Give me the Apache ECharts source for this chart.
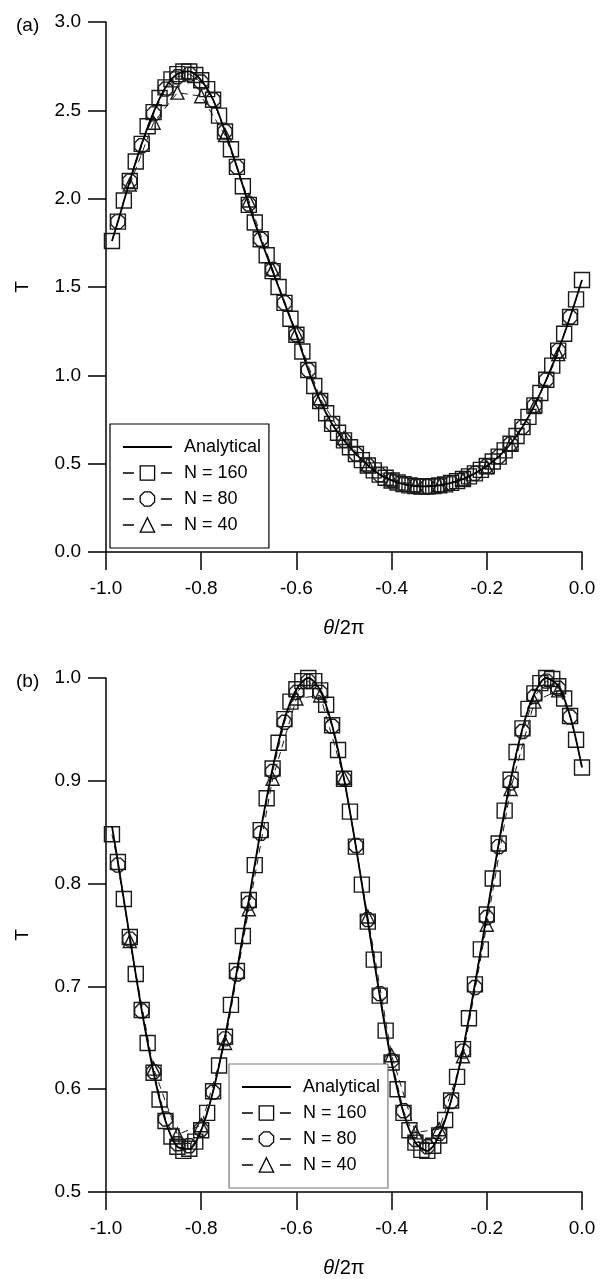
<!DOCTYPE html>
<html>
<head>
<meta charset="utf-8">
<script src="https://cdn.jsdelivr.net/npm/echarts@6/dist/echarts.min.js"></script>
<style>
  html, body { margin: 0; padding: 0; background: #fff; }
  #chart { width: 612px; height: 1279px; }
</style>
</head>
<body>
<div id="chart"></div>
<script>
// Sample positions along θ/2π
const xN160 = [-0.9875, -0.975, -0.9625, -0.95, -0.9375, -0.925, -0.9125, -0.9, -0.8875, -0.875,
  -0.8625, -0.85, -0.8375, -0.825, -0.8125, -0.8, -0.7875, -0.775, -0.7625, -0.75,
  -0.7375, -0.725, -0.7125, -0.7, -0.6875, -0.675, -0.6625, -0.65, -0.6375, -0.625,
  -0.6125, -0.6, -0.5875, -0.575, -0.5625, -0.55, -0.5375, -0.525, -0.5125, -0.5,
  -0.4875, -0.475, -0.4625, -0.45, -0.4375, -0.425, -0.4125, -0.4, -0.3875, -0.375,
  -0.3625, -0.35, -0.3375, -0.325, -0.3125, -0.3, -0.2875, -0.275, -0.2625, -0.25,
  -0.2375, -0.225, -0.2125, -0.2, -0.1875, -0.175, -0.1625, -0.15, -0.1375, -0.125,
  -0.1125, -0.1, -0.0875, -0.075, -0.0625, -0.05, -0.0375, -0.025, -0.0125, 0];
const xN80 = [-0.975, -0.95, -0.925, -0.9, -0.875, -0.85, -0.825, -0.8, -0.775, -0.75,
  -0.725, -0.7, -0.675, -0.65, -0.625, -0.6, -0.575, -0.55, -0.525, -0.5,
  -0.475, -0.45, -0.425, -0.4, -0.375, -0.35, -0.325, -0.3, -0.275, -0.25,
  -0.225, -0.2, -0.175, -0.15, -0.125, -0.1, -0.075, -0.05, -0.025];
const xN40 = [-0.95, -0.9, -0.85, -0.8, -0.75, -0.7, -0.65, -0.6, -0.55, -0.5,
  -0.45, -0.4, -0.35, -0.3, -0.25, -0.2, -0.15, -0.1, -0.05];
const xExact = [-0.9875, -0.975, -0.95, -0.925, -0.9, -0.875, -0.85, -0.825, -0.8, -0.775,
  -0.75, -0.725, -0.7, -0.675, -0.65, -0.625, -0.6, -0.575, -0.55, -0.525,
  -0.5, -0.475, -0.45, -0.425, -0.4, -0.375, -0.35, -0.325, -0.3, -0.275,
  -0.25, -0.225, -0.2, -0.175, -0.15, -0.125, -0.1, -0.075, -0.05, -0.025, 0];

// Panel (a): T
const tA160 = [1.76, 1.87, 1.99, 2.10, 2.21, 2.31, 2.41, 2.49, 2.57, 2.63,
  2.675, 2.705, 2.72, 2.72, 2.70, 2.67, 2.62, 2.56, 2.47, 2.38,
  2.28, 2.18, 2.07, 1.965, 1.865, 1.77, 1.68, 1.59, 1.50, 1.41,
  1.32, 1.23, 1.135, 1.03, 0.94, 0.855, 0.785, 0.725, 0.675, 0.632,
  0.593, 0.555, 0.52, 0.49, 0.462, 0.438, 0.42, 0.405, 0.393, 0.384,
  0.377, 0.373, 0.371, 0.371, 0.373, 0.377, 0.383, 0.391, 0.401, 0.413,
  0.428, 0.445, 0.465, 0.487, 0.512, 0.54, 0.575, 0.613, 0.657, 0.707,
  0.765, 0.83, 0.90, 0.975, 1.055, 1.14, 1.235, 1.33, 1.43, 1.54];
const tA80 = [1.87, 2.10, 2.30, 2.48, 2.62, 2.69, 2.705, 2.66, 2.56, 2.38,
  2.18, 1.97, 1.77, 1.60, 1.41, 1.23, 1.03, 0.855, 0.725, 0.632,
  0.555, 0.49, 0.438, 0.405, 0.384, 0.373, 0.371, 0.377, 0.391, 0.413,
  0.445, 0.487, 0.54, 0.613, 0.707, 0.83, 0.975, 1.14, 1.33];
const tA40 = [2.08, 2.43, 2.60, 2.58, 2.36, 1.99, 1.60, 1.24, 0.87, 0.645,
  0.495, 0.41, 0.378, 0.378, 0.41, 0.48, 0.61, 0.82, 1.12];
const tAExact = [1.76, 1.87, 2.10, 2.31, 2.49, 2.63, 2.705, 2.72, 2.67, 2.56,
  2.38, 2.18, 1.965, 1.77, 1.59, 1.41, 1.23, 1.03, 0.855, 0.725,
  0.632, 0.555, 0.49, 0.438, 0.405, 0.384, 0.373, 0.371, 0.377, 0.391,
  0.413, 0.445, 0.487, 0.54, 0.613, 0.707, 0.83, 0.975, 1.14, 1.33, 1.54];

// Panel (b): T
const tB160 = [0.848, 0.821, 0.785, 0.748, 0.712, 0.677, 0.645, 0.616, 0.590, 0.569,
  0.554, 0.544, 0.540, 0.542, 0.549, 0.560, 0.577, 0.598, 0.623, 0.651,
  0.682, 0.715, 0.749, 0.784, 0.818, 0.852, 0.883, 0.912, 0.937, 0.960,
  0.977, 0.989, 0.997, 1.000, 0.997, 0.988, 0.974, 0.954, 0.930, 0.902,
  0.870, 0.836, 0.799, 0.763, 0.726, 0.691, 0.657, 0.626, 0.600, 0.577,
  0.560, 0.548, 0.541, 0.540, 0.545, 0.555, 0.570, 0.589, 0.612, 0.639,
  0.669, 0.702, 0.736, 0.770, 0.805, 0.839, 0.871, 0.901, 0.928, 0.951,
  0.970, 0.985, 0.995, 1.000, 0.999, 0.992, 0.980, 0.963, 0.940, 0.913];
const tB80 = [0.818, 0.746, 0.676, 0.617, 0.571, 0.547, 0.545, 0.561, 0.597, 0.649,
  0.712, 0.781, 0.849, 0.909, 0.957, 0.986, 0.997, 0.986, 0.953, 0.902,
  0.837, 0.765, 0.693, 0.628, 0.579, 0.551, 0.544, 0.557, 0.588, 0.637,
  0.699, 0.767, 0.836, 0.898, 0.948, 0.982, 0.997, 0.990, 0.962];
const tB40 = [0.744, 0.620, 0.556, 0.565, 0.645, 0.775, 0.902, 0.980, 0.983, 0.903,
  0.768, 0.633, 0.558, 0.561, 0.632, 0.760, 0.892, 0.977, 0.988];
const tBExact = [0.856, 0.821, 0.748, 0.677, 0.616, 0.569, 0.544, 0.542, 0.560, 0.598,
  0.651, 0.715, 0.784, 0.852, 0.912, 0.960, 0.989, 1.000, 0.988, 0.954,
  0.902, 0.836, 0.763, 0.691, 0.626, 0.577, 0.548, 0.540, 0.555, 0.589,
  0.639, 0.702, 0.770, 0.839, 0.901, 0.951, 0.985, 1.000, 0.992, 0.963, 0.913];

const seriesNames = ['Analytical', 'N = 160', 'N = 80', 'N = 40'];

const FONT = '"Liberation Sans", Arial, Helvetica, sans-serif';
const INK = '#1a1a1a';
const OCTAGON = 'path://M3,0L7,0L10,3L10,7L7,10L3,10L0,7L0,3Z';

const pts = (xs, ys) => xs.map((x, i) => [x, ys[i]]);

function xAxisFor(gridIndex) {
  return {
    gridIndex, type: 'value', min: -1, max: 0, interval: 0.2,
    name: '{i|θ}/2π', nameLocation: 'middle', nameGap: 66,
    nameTextStyle: { fontFamily: FONT, fontSize: 20, color: '#000',
      rich: { i: { fontFamily: FONT, fontSize: 20, fontStyle: 'italic', color: '#000' } } },
    axisLine: { show: true, onZero: false, lineStyle: { color: '#000', width: 1.5 } },
    axisTick: { show: true, inside: false, length: 18, lineStyle: { color: '#000', width: 1.5 } },
    axisLabel: { fontFamily: FONT, fontSize: 19, color: '#000', margin: 27,
      formatter: v => v.toFixed(1) },
    splitLine: { show: false }
  };
}
function yAxisFor(gridIndex, min, max, interval) {
  return {
    gridIndex, type: 'value', min, max, interval,
    name: 'T', nameLocation: 'middle', nameGap: 74,
    nameTextStyle: { fontFamily: FONT, fontSize: 19, color: '#000' },
    axisLine: { show: true, onZero: false, lineStyle: { color: '#000', width: 1.5 } },
    axisTick: { show: true, inside: false, length: 18, lineStyle: { color: '#000', width: 1.5 } },
    axisLabel: { fontFamily: FONT, fontSize: 19, color: '#000', margin: 25,
      formatter: v => v.toFixed(1) },
    splitLine: { show: false }
  };
}

function panelSeries(idx, s160, s80, s40, exact) {
  const marker = (name, xs, ys, symbol, size) => ({
    name, type: 'line', xAxisIndex: idx, yAxisIndex: idx,
    data: pts(xs, ys), symbol, symbolSize: size, showSymbol: true,
    itemStyle: { color: 'rgba(255,255,255,0)', borderColor: INK, borderWidth: 1.4 },
    lineStyle: { color: INK, width: 1, type: [7, 5] },
    emphasis: { disabled: true }, z: 2
  });
  return [
    {
      name: 'Analytical', type: 'line', xAxisIndex: idx, yAxisIndex: idx,
      data: pts(xExact, exact), symbol: 'none', smooth: 0.3,
      lineStyle: { color: '#000', width: 1.8, type: 'solid' },
      itemStyle: { color: '#000' },
      emphasis: { disabled: true }, z: 5
    },
    marker('N = 160', xN160, s160, 'rect', 15),
    marker('N = 80', xN80, s80, OCTAGON, 14),
    marker('N = 40', xN40, s40, 'triangle', 13)
  ];
}

function legendAt(left, top, border) {
  return {
    orient: 'vertical', left, top,
    data: seriesNames.map(n => n === 'Analytical'
      ? { name: n, itemStyle: { opacity: 0 }, lineStyle: { type: 'solid', width: 1.8, color: '#000' } }
      : { name: n, itemStyle: { color: '#fff', borderColor: '#000', borderWidth: 1.3 },
          lineStyle: { type: [11, 27], width: 1.5, color: '#000', opacity: 1 } }),
    itemWidth: 49, itemHeight: 18, itemGap: 8,
    padding: [14, 8, 14, 12],
    borderColor: border, borderWidth: 1.2, backgroundColor: '#fff',
    textStyle: { fontFamily: FONT, fontSize: 18, color: '#000', padding: [0, 0, 0, 7] },
    selectedMode: false
  };
}

const chart = echarts.init(document.getElementById('chart'), null, { renderer: 'canvas' });
chart.setOption({
  animation: false,
  backgroundColor: '#fff',
  title: [
    { text: '(a)', left: 11, top: 11, textStyle: { fontFamily: FONT, fontSize: 19, fontWeight: 'normal', color: '#000' } },
    { text: '(b)', left: 11, top: 667, textStyle: { fontFamily: FONT, fontSize: 19, fontWeight: 'normal', color: '#000' } }
  ],
  grid: [
    { left: 106, top: 22, width: 476, height: 530 },
    { left: 106, top: 678, width: 476, height: 514 }
  ],
  xAxis: [xAxisFor(0), xAxisFor(1)],
  yAxis: [yAxisFor(0, 0, 3, 0.5), yAxisFor(1, 0.5, 1.0, 0.1)],
  legend: [legendAt(110, 424, '#000'), legendAt(229, 1064, '#777')],
  series: [
    ...panelSeries(0, tA160, tA80, tA40, tAExact),
    ...panelSeries(1, tB160, tB80, tB40, tBExact)
  ]
});
</script>
</body>
</html>
